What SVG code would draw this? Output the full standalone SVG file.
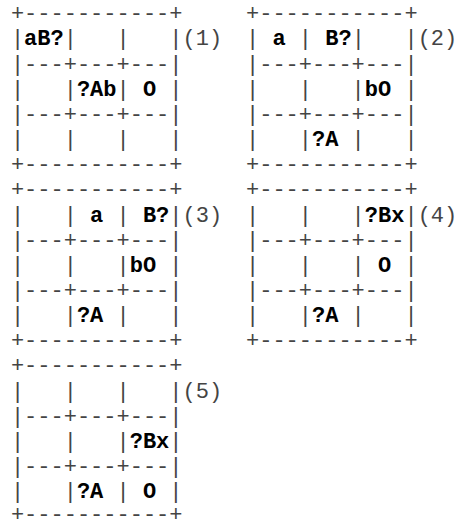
<svg xmlns="http://www.w3.org/2000/svg" width="458" height="522" viewBox="0 0 458 522" xml:space="preserve">
<style>
text{font-family:"Liberation Mono","Courier New",monospace;font-size:22px;fill:#444;white-space:pre}
.b{font-weight:bold;fill:#000}
</style>
<rect width="458" height="522" fill="#fff"/>
<g id="panel1">
<text x="10.9" y="20.3">+-----------+</text>
<text x="10.9" y="45.45">|<tspan class="b">aB?</tspan>|   |   |(1)</text>
<text x="10.9" y="70.6">|---+---+---|</text>
<text x="10.9" y="95.75">|   |<tspan class="b">?Ab</tspan>| <tspan class="b">O</tspan> |</text>
<text x="10.9" y="120.9">|---+---+---|</text>
<text x="10.9" y="146.05">|   |   |   |</text>
<text x="10.9" y="171.2">+-----------+</text>
</g>
<g id="panel2">
<text x="246" y="20.3">+-----------+</text>
<text x="246" y="45.45">| <tspan class="b">a</tspan> | <tspan class="b">B?</tspan>|   |(2)</text>
<text x="246" y="70.6">|---+---+---|</text>
<text x="246" y="95.75">|   |   |<tspan class="b">bO</tspan> |</text>
<text x="246" y="120.9">|---+---+---|</text>
<text x="246" y="146.05">|   |<tspan class="b">?A</tspan> |   |</text>
<text x="246" y="171.2">+-----------+</text>
</g>
<g id="panel3">
<text x="10.9" y="196.35">+-----------+</text>
<text x="10.9" y="221.5">|   | <tspan class="b">a</tspan> | <tspan class="b">B?</tspan>|(3)</text>
<text x="10.9" y="246.65">|---+---+---|</text>
<text x="10.9" y="271.8">|   |   |<tspan class="b">bO</tspan> |</text>
<text x="10.9" y="296.95">|---+---+---|</text>
<text x="10.9" y="322.1">|   |<tspan class="b">?A</tspan> |   |</text>
<text x="10.9" y="347.25">+-----------+</text>
</g>
<g id="panel4">
<text x="246" y="196.35">+-----------+</text>
<text x="246" y="221.5">|   |   |<tspan class="b">?Bx</tspan>|(4)</text>
<text x="246" y="246.65">|---+---+---|</text>
<text x="246" y="271.8">|   |   | <tspan class="b">O</tspan> |</text>
<text x="246" y="296.95">|---+---+---|</text>
<text x="246" y="322.1">|   |<tspan class="b">?A</tspan> |   |</text>
<text x="246" y="347.25">+-----------+</text>
</g>
<g id="panel5">
<text x="10.9" y="372.4">+-----------+</text>
<text x="10.9" y="397.55">|   |   |   |(5)</text>
<text x="10.9" y="422.7">|---+---+---|</text>
<text x="10.9" y="447.85">|   |   |<tspan class="b">?Bx</tspan>|</text>
<text x="10.9" y="473">|---+---+---|</text>
<text x="10.9" y="498.15">|   |<tspan class="b">?A</tspan> | <tspan class="b">O</tspan> |</text>
<text x="10.9" y="521">+-----------+</text>
</g>
<g id="connectors"/>
</svg>
